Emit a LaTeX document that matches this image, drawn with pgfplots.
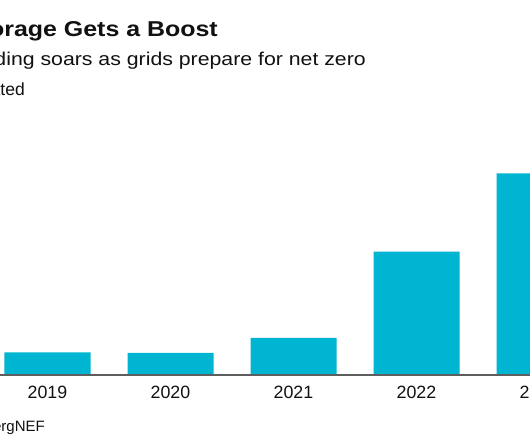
\documentclass[border=0pt]{standalone}
\usepackage{fontspec}
\setmainfont{Liberation Sans}
\newfontfamily\titlefont[FakeStretch=1.16]{Liberation Sans}
\newfontfamily\subfont[FakeStretch=1.15]{Liberation Sans}
\usepackage{pgfplots}
\usepackage{pgfplotstable}
\pgfplotsset{compat=1.18}
\definecolor{barc}{HTML}{00B5D1}
\definecolor{axc}{HTML}{5E5E5E}
\definecolor{txt}{HTML}{111111}

\pgfplotstableread{
x val
0 2.25
1 2.20
2 3.71
3 12.33
4 20.17
}\datatable

\begin{document}
\begin{tikzpicture}
\useasboundingbox (0,0) rectangle (530bp,442bp);
\clip (0,0) rectangle (530bp,442bp);
\fill[white] (0,0) rectangle (530bp,442bp);
\begin{axis}[
  at={(-26.3bp,67bp)}, anchor=south west,
  scale only axis, width=627.3bp, height=210bp,
  xmin=-0.6, xmax=4.5, ymin=0, ymax=21,
  axis x line*=bottom, axis y line=none,
  ytick=\empty,
  ybar, bar width=86bp,
  xtick={0,1,2,3,4}, xticklabels={2019,2020,2021,2022,2023},
  major tick length=0pt,
  x axis line style={draw=axc, line width=1.5bp},
  xticklabel style={font=\fontsize{17.8bp}{20bp}\selectfont, text=txt, anchor=north, inner sep=0pt, yshift=-10.5bp},
  axis on top,
]
\addplot[fill=barc, draw=none] table[x=x,y=val]{\datatable};
\end{axis}
\node[anchor=base east, inner sep=0pt, text=txt, font=\titlefont\bfseries\fontsize{21.5bp}{26bp}\selectfont] at (218bp,405.3bp) {Energy Storage Gets a Boost};
\node[anchor=base east, inner sep=0pt, text=txt, font=\subfont\fontsize{18.5bp}{22bp}\selectfont] at (366bp,376bp) {Spending soars as grids prepare for net zero};
\node[anchor=base east, inner sep=0pt, text=txt, font=\fontsize{17.5bp}{21bp}\selectfont] at (25bp,346.3bp) {Estimated};
\node[anchor=base east, inner sep=0pt, text=txt, font=\fontsize{15bp}{18bp}\selectfont] at (45bp,11bp) {Source: BloombergNEF};
\end{tikzpicture}
\end{document}
